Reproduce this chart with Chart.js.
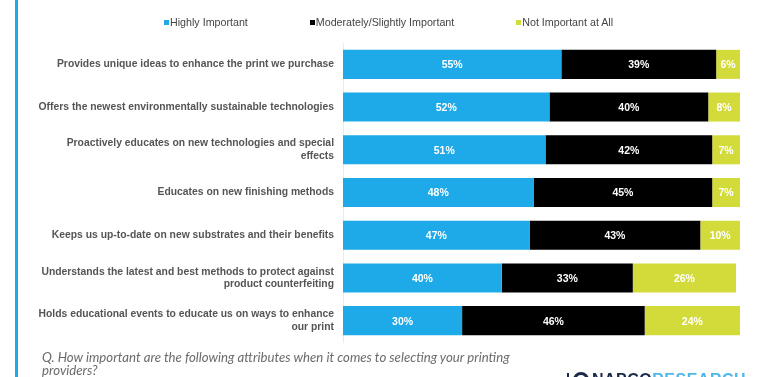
<!DOCTYPE html>
<html>
<head>
<meta charset="utf-8">
<script src="https://cdn.jsdelivr.net/npm/chart.js@4.4.1/dist/chart.umd.min.js"></script>
<style>
    html, body { margin: 0; padding: 0; background: #fff; }
    #wrap { position: relative; width: 768px; height: 377px; overflow: hidden; }
    #side-bar { position: absolute; left: 15px; top: 0; width: 3px; height: 377px; background: #1ea9e8; }
    #legend { position: absolute; left: 164px; top: 16px; display: flex; gap: 62px; font: 10.7px "Liberation Sans", Arial, sans-serif; color: #444; }
    #legend span.item { display: flex; align-items: center; white-space: nowrap; }
    #legend i { display: inline-block; width: 5px; height: 5px; margin-right: 1px; }
    #question { position: absolute; left: 42px; top: 351px; font: italic 13.2px Lato, sans-serif; color: #6b6b6b; line-height: 13px; }
    #logo { position: absolute; left: 567px; top: 371px; font: bold 16px "Liberation Sans", Arial, sans-serif; white-space: nowrap; letter-spacing: 0.5px; }
    #logo .napco { color: #1c2a4a; }
    #logo .research { color: #4fb8e8; }
    #logo .ring { display: inline-block; width: 10px; height: 10px; border: 3px solid #1c2a4a; border-radius: 50%; vertical-align: top; margin: 1px 3px 0 4px; }
    #logo .pipe { display: inline-block; width: 2px; height: 14px; background: #1c2a4a; vertical-align: top; margin-top: 2px; }
    canvas { position: absolute; left: 0; top: 0; }
</style>
</head>
<body>
<div id="wrap">
    <canvas id="chart" width="768" height="377"></canvas>
    <div id="side-bar"></div>
    <div id="legend"></div>
    <div id="question">Q. How important are the following attributes when it comes to selecting your printing<br>providers?</div>
    <div id="logo"><span class="pipe"></span><span class="ring"></span><span class="napco">NAPCO</span><span class="research">RESEARCH</span></div>
</div>
<script>
const categories = [
    "Provides unique ideas to enhance the print we purchase",
    "Offers the newest environmentally sustainable technologies",
    ["Proactively educates on new technologies and special", "effects"],
    "Educates on new finishing methods",
    "Keeps us up-to-date on new substrates and their benefits",
    ["Understands the latest and best methods to protect against", "product counterfeiting"],
    ["Holds educational events to educate us on ways to enhance", "our print"]
];
const seriesNames = ["Highly Important", "Moderately/Slightly Important", "Not Important at All"];
const highlyImportant = [55, 52, 51, 48, 47, 40, 30];
const moderatelyImportant = [39, 40, 42, 45, 43, 33, 46];
const notImportant = [6, 8, 7, 7, 10, 26, 24];

const colors = ["#1ea9e8", "#000000", "#d3db3a"];

const barLabels = {
    id: "barLabels",
    afterDatasetsDraw(chart) {
        const ctx = chart.ctx;
        ctx.save();
        ctx.font = "bold 10.5px 'Liberation Sans', Arial, sans-serif";
        ctx.fillStyle = "#fff";
        ctx.textAlign = "center";
        ctx.textBaseline = "middle";
        chart.data.datasets.forEach((ds, i) => {
            chart.getDatasetMeta(i).data.forEach((bar, j) => {
                const { x, base, y } = bar.getProps(["x", "base", "y"], true);
                ctx.fillText(`${ds.data[j]}%`, (x + base) / 2, y + 1);
            });
        });
        ctx.restore();
    }
};

const chart = new Chart(document.getElementById("chart"), {
    type: "bar",
    data: {
        labels: categories,
        datasets: [highlyImportant, moderatelyImportant, notImportant].map((data, i) => ({
            label: seriesNames[i],
            data,
            backgroundColor: colors[i],
            borderWidth: 0,
            categoryPercentage: 1,
            barPercentage: 0.68
        }))
    },
    options: {
        indexAxis: "y",
        responsive: false,
        animation: false,
        layout: { padding: { top: 43, bottom: 35, left: 0, right: 28 } },
        plugins: { legend: { display: false }, tooltip: { enabled: false } },
        scales: {
            x: { stacked: true, min: 0, max: 100, display: false },
            y: {
                stacked: true,
                grid: { display: false, drawTicks: false },
                border: { display: true, color: "#ebebeb" },
                ticks: { padding: 9, color: "#555", font: { family: "'Liberation Sans', Arial, sans-serif", size: 10.35, weight: "bold", lineHeight: 1.2 } },
                afterFit(scale) { scale.width = 343; }
            }
        }
    },
    plugins: [barLabels]
});

document.getElementById("legend").innerHTML = chart.data.datasets
    .map(ds => `<span class="item"><i style="background:${ds.backgroundColor}"></i>${ds.label}</span>`).join("");
</script>
</body>
</html>
